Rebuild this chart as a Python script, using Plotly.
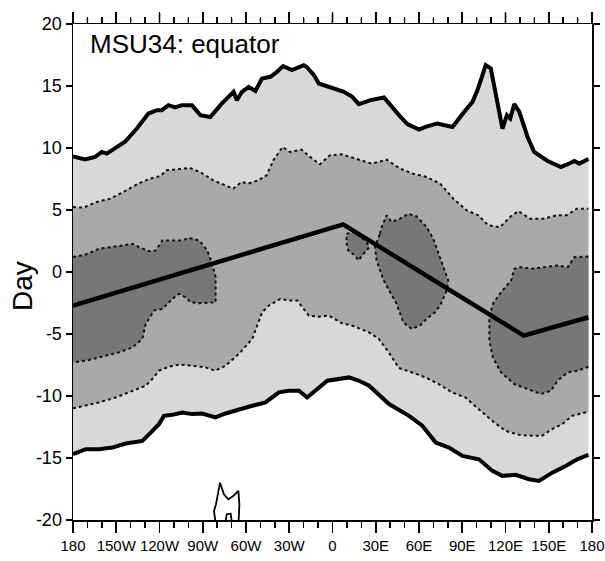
import plotly.graph_objects as go

# ---------------- data ----------------
outer_upper_x = [-180, -171.7, -164.7, -160, -156.6, -149.6, -143.9, -135.7, -127.7, -121.8, -118.4, -113.8,
                 -109.1, -104.5, -97.5, -91.7, -84.8, -76.7, -68.6, -66.3, -62.8, -58.2, -53.5, -48.9, -43.1,
                 -38.5, -34.3, -28.1, -20.0, -18.0, -13.0, -9.5, -0.2, 7.9, 13.7, 18.3, 26.4, 35.7, 46.1, 51.9,
                 60.0, 64.6, 72.7, 83.2, 91.3, 97.1, 100.6, 106.3, 109.8, 113.3, 117.9, 121.0, 123.3, 126.1,
                 129.6, 135.3, 139.9, 149.2, 158.5, 163.1, 167.8, 171.2, 177.5]
outer_upper_y = [9.33, 9.07, 9.28, 9.68, 9.55, 10.09, 10.5, 11.57, 12.78, 13.05, 13.05, 13.45,
                 13.27, 13.45, 13.45, 12.65, 12.5, 13.6, 14.53, 13.86, 14.53, 14.93, 14.6, 15.6, 15.74,
                 16.14, 16.6, 16.28, 16.68, 16.55, 15.9, 15.2, 14.8, 14.53, 14.13, 13.54, 13.86, 14.07, 12.65, 11.92,
                 11.49, 11.7, 11.98, 11.7, 12.91, 13.72, 14.67, 16.69, 16.42, 14.13, 11.57, 12.65, 12.38, 13.54,
                 12.91, 10.89, 9.68, 8.95, 8.47, 8.69, 8.95, 8.74, 9.12]

outer_lower_x = [-180, -171.2, -161.9, -152.7, -143.4, -136.5, -131.9, -126.1, -120.4, -116.9, -111.1, -104.2,
                 -97.3, -90.4, -81.2, -74.2, -65.0, -55.7, -46.5, -37.2, -30.3, -23.3, -17.6, -11.7, -3.6,
                 11.5, 18.4, 25.4, 39.2, 53.1, 62.3, 71.6, 80.8, 90.1, 101.6, 110.9, 117.8, 127.0, 136.3,
                 143.2, 152.5, 161.7, 169.8, 177.5]
outer_lower_y = [-14.69, -14.29, -14.29, -14.16, -13.83, -13.75, -13.62, -12.95, -12.27, -11.6, -11.52, -11.33,
                 -11.46, -11.41, -11.73, -11.41, -11.06, -10.79, -10.52, -9.71, -9.58, -9.58, -10.12, -9.58, -8.77,
                 -8.5, -8.77, -9.17, -10.65, -11.6, -12.4, -13.75, -14.16, -14.83, -15.1, -16.04, -16.44, -16.36,
                 -16.71, -16.85, -16.18, -15.64, -15.1, -14.75]

mid_upper_x = [-180, -172.9, -163.6, -154.3, -145.1, -135.8, -126.6, -119.7, -115.1, -105.9, -98.9, -92.0,
               -82.7, -68.9, -63.1, -58.5, -51.5, -45.7, -41.1, -34.6, -29.5, -21.4, -15.6, -8.7, -1.8, 6.4,
               16.8, 27.2, 37.6, 46.8, 56.1, 65.3, 74.6, 83.8, 93.1, 101.1, 108.1, 116.2, 123.1, 128.9, 137.0,
               146.2, 155.5, 162.4, 169.4, 177.5]
mid_upper_y = [5.24, 5.19, 5.64, 5.91, 6.45, 7.07, 7.53, 7.72, 8.2, 8.34, 8.39, 8.07,
               7.39, 6.72, 7.26, 7.13, 7.39, 7.8, 9.0, 10.08, 9.68, 9.87, 9.28, 8.69, 9.41, 9.49,
               9.14, 8.74, 9.06, 8.34, 7.93, 7.66, 7.13, 5.91, 4.97, 4.57, 3.76, 3.62, 4.43, 4.91, 4.3,
               4.3, 4.57, 4.57, 5.1, 5.1]

mid_lower_x = [-180, -171.2, -161.9, -150.4, -138.8, -129.6, -125.0, -120.4, -113.4, -106.5, -97.3, -88.0,
               -81.6, -74.2, -65.0, -55.7, -48.8, -44.2, -36.1, -30.3, -24.5, -16.4, -9.5, -2.5, 6.7, 13.6,
               25.2, 32.1, 39.0, 46.0, 55.2, 64.5, 73.7, 82.9, 92.2, 101.5, 110.7, 120.0, 129.2, 138.5, 145.4,
               152.3, 159.3, 166.2, 177.5]
mid_lower_y = [-11.0, -10.79, -10.52, -10.12, -9.58, -9.17, -8.63, -7.96, -7.64, -7.47, -7.56, -7.69,
               -7.96, -7.56, -6.61, -5.4, -3.25, -2.71, -2.17, -2.3, -2.3, -3.52, -3.6, -3.52, -4.14, -4.32,
               -4.86, -5.4, -6.48, -7.74, -8.1, -8.5, -9.04, -9.71, -10.12, -11.06, -12.0, -12.81, -13.13, -13.21, -13.21,
               -12.67, -12.27, -11.6, -11.27]

dark_left_x = [-180, -171.2, -161.9, -152.7, -145.7, -138.8, -134.2, -127.2, -122.6, -118, -111.1, -104.2,
               -99.6, -92.6, -86.9, -83.4, -81.1, -81.1, -88.0, -92.6, -98.4, -101.9, -106.5, -111.1, -118,
               -123.8, -129.6, -131.9, -138.8, -148.1, -157.3, -168.9, -180]
dark_left_y = [1.2, 1.41, 1.87, 2.0, 2.14, 2.28, 2.0, 1.68, 1.74, 2.55, 2.55, 2.55,
               2.76, 2.55, 1.74, 0.66, -0.42, -2.44, -2.49, -2.52, -2.44, -2.04, -1.76, -2.17, -2.98,
               -3.11, -4.19, -5.4, -6.08, -6.48, -6.75, -7.1, -7.29]

dark_small_x = [9.8, 15.6, 23.7, 25.5, 22.5, 17.9, 15.6, 10.9, 9.8, 9.8]
dark_small_y = [3.09, 3.22, 2.41, 2.0, 1.6, 0.93, 1.33, 1.74, 2.28, 3.09]

dark_center_x = [32.9, 34.1, 37.5, 41.0, 46.8, 52.6, 58.3, 65.3, 69.9, 74.5, 78.0, 80.3, 79.2, 76.9, 74.6,
                 71.1, 65.3, 60.7, 54.9, 49.1, 44.5, 38.7, 35.2, 30.6, 29.5, 32.9]
dark_center_y = [3.09, 3.62, 4.57, 4.03, 4.3, 4.7, 4.48, 3.62, 2.68, 1.2, 0.12, -0.69, -1.5, -2.17, -2.71,
                 -3.25, -3.78, -4.32, -4.59, -4.06, -2.57, -1.36, -0.6, 0.93, 2.0, 3.09]

dark_right_x = [177.5, 167.7, 163.1, 156.1, 146.9, 137.6, 130.7, 126.1, 123.9, 116.9, 111.2, 108.8, 108.8,
                111.2, 116.9, 126.1, 135.4, 144.6, 151.5, 156.1, 163.1, 170.0, 177.5]
dark_right_y = [1.25, 1.2, 0.39, 0.53, 0.39, 0.26, 0.39, 0.26, -0.69, -1.63, -2.57, -3.65, -5.53,
                -6.88, -8.1, -9.04, -9.44, -9.84, -9.58, -8.77, -8.1, -7.96, -7.64]

trend_x = [-180, 7.4, 132.6, 177.5]
trend_y = [-2.71, 3.84, -5.13, -3.65]

blob_outer_x = [-80.8, -82.2, -80.8, -78.0, -75.3, -72.3, -68.8, -65.3, -64.6, -65.3]
blob_outer_y = [-20.5, -19.27, -18.73, -16.99, -17.92, -18.33, -18.06, -17.66, -18.73, -20.5]
blob_inner_x = [-74.6, -73.4, -70.6, -69.5]
blob_inner_y = [-20.5, -19.54, -19.49, -20.5]

x_tickvals = [-180, -150, -120, -90, -60, -30, 0, 30, 60, 90, 120, 150, 180]
x_ticktext = ["180", "150W", "120W", "90W", "60W", "30W", "0", "30E", "60E", "90E", "120E", "150E", "180"]
x_minorvals = [v for v in range(-170, 180, 10) if v % 30 != 0]
y_tickvals = [-20, -15, -10, -5, 0, 5, 10, 15, 20]
y_ticktext = ["-20", "-15", "-10", "-5", "0", "5", "10", "15", "20"]

LIGHT = "#d8d8d8"
MID = "#a9a9a9"
DARK = "#777777"
FONT = "Liberation Sans, Arial, Helvetica, sans-serif"

W, H = 605, 561
ML, MR, MT, MB = 73, 13, 24, 41
PW, PH = W - ML - MR, H - MT - MB

fig = go.Figure()


def band(ux, uy, lx, ly, color):
    fig.add_trace(go.Scatter(x=list(ux) + list(lx)[::-1], y=list(uy) + list(ly)[::-1],
                             fill="toself", fillcolor=color, mode="lines",
                             line=dict(width=0, color=color), hoverinfo="skip", showlegend=False))


band(outer_upper_x, outer_upper_y, outer_lower_x, outer_lower_y, LIGHT)
band(mid_upper_x, mid_upper_y, mid_lower_x, mid_lower_y, MID)

for px_, py_ in [(dark_left_x, dark_left_y), (dark_small_x, dark_small_y),
                 (dark_center_x, dark_center_y), (dark_right_x, dark_right_y)]:
    fig.add_trace(go.Scatter(x=px_, y=py_, fill="toself", fillcolor=DARK, mode="lines",
                             line=dict(width=0, color=DARK), hoverinfo="skip", showlegend=False))

# dotted contour lines
for cx, cy in [(mid_upper_x, mid_upper_y), (mid_lower_x, mid_lower_y), (dark_left_x, dark_left_y),
               (dark_small_x, dark_small_y), (dark_center_x, dark_center_y), (dark_right_x, dark_right_y)]:
    fig.add_trace(go.Scatter(x=cx, y=cy, mode="lines", line=dict(color="#111111", width=2, dash="dot"),
                             hoverinfo="skip", showlegend=False))

# thick outer contours
for cx, cy in [(outer_upper_x, outer_upper_y), (outer_lower_x, outer_lower_y)]:
    fig.add_trace(go.Scatter(x=cx, y=cy, mode="lines", line=dict(color="black", width=4),
                             hoverinfo="skip", showlegend=False))

# small contour near the bottom
for cx, cy in [(blob_outer_x, blob_outer_y), (blob_inner_x, blob_inner_y)]:
    fig.add_trace(go.Scatter(x=cx, y=cy, mode="lines", line=dict(color="black", width=1.8),
                             hoverinfo="skip", showlegend=False))

# piecewise trend line
fig.add_trace(go.Scatter(x=trend_x, y=trend_y, mode="lines", line=dict(color="black", width=4.5),
                         hoverinfo="skip", showlegend=False))

# tick marks on the top and right frame edges, generated from the tick arrays
shapes = []
for v in x_tickvals:
    shapes.append(dict(type="line", xref="x", yref="paper", x0=v, x1=v, y0=1, y1=1 + 11 / PH,
                       line=dict(color="black", width=1.6), layer="above"))
for v in x_minorvals:
    shapes.append(dict(type="line", xref="x", yref="paper", x0=v, x1=v, y0=1, y1=1 + 6 / PH,
                       line=dict(color="black", width=1.4), layer="above"))
for v in y_tickvals:
    shapes.append(dict(type="line", xref="paper", yref="y", x0=1, x1=1 + 6 / PW, y0=v, y1=v,
                       line=dict(color="black", width=1.6), layer="above"))

minor_x = dict(dtick=10, tick0=-180, ticks="outside", ticklen=6, tickwidth=1.4,
               tickcolor="black", showgrid=False)

fig.update_layout(
    width=W, height=H,
    margin=dict(l=ML, r=MR, t=MT, b=MB, autoexpand=False),
    paper_bgcolor="white", plot_bgcolor="white",
    font=dict(family=FONT, color="black"),
    showlegend=False,
    shapes=shapes,
    xaxis=dict(range=[-180, 180], tickvals=x_tickvals, ticktext=x_ticktext, tickangle=0,
               tickfont=dict(size=15, family=FONT), ticks="outside", ticklen=11, tickwidth=1.6,
               tickcolor="black", showline=True, linecolor="black", linewidth=1.5, mirror="ticks",
               showgrid=False, zeroline=False, automargin=False, minor=minor_x, fixedrange=True),
    yaxis=dict(range=[-20, 20], tickvals=y_tickvals, ticktext=y_ticktext,
               tickfont=dict(size=18, family=FONT), ticks="outside", ticklen=6, tickwidth=1.6,
               tickcolor="black", showline=True, linecolor="black", linewidth=1.5, mirror="ticks",
               showgrid=False, zeroline=False, automargin=False, fixedrange=True),
    annotations=[
        dict(text="MSU34: equator", xref="paper", yref="y", x=(88 - 73) / 519, y=18.38,
             xanchor="left", yanchor="middle", showarrow=False, font=dict(size=26, family=FONT)),
        dict(text="Day", xref="paper", yref="y", x=(22.5 - 73) / 519, y=-1.17, textangle=-90,
             xanchor="center", yanchor="middle", showarrow=False, font=dict(size=28, family=FONT)),
    ],
)

# remove the page's default body margin so the 605x561 figure fills the window exactly
fig.write_html("out.html", config={"displayModeBar": False, "staticPlot": True},
               post_script="document.body.style.margin='0px';document.body.style.overflow='hidden';")
